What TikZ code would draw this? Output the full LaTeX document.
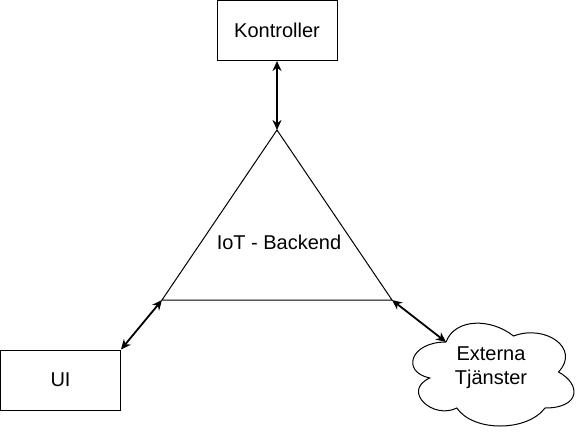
\documentclass[tikz,border=0pt]{standalone}
\usepackage{fontspec}
\setmainfont{Liberation Sans}
\usetikzlibrary{arrows.meta}
\begin{document}
\begin{tikzpicture}[x=1pt,y=-1pt,
  txt/.style={font=\fontsize{20}{24}\selectfont, align=center, inner sep=0pt},
  box/.style={txt, draw, line width=1pt, minimum width=120pt, minimum height=60pt},
  shape line/.style={draw, line width=1pt, line join=miter},
  link/.style={line width=1.8pt, {Stealth[length=10pt,width=9pt]}-{Stealth[length=10pt,width=9pt]}}]
\useasboundingbox (0,0) rectangle (582,432);
% boxes
\node[box] (ctrl) at (277,30.5) {Kontroller};
\node[box] (ui) at (60.5,380) {UI};
% triangle
\coordinate (apex) at (277,130);
\coordinate (bl) at (162,300);
\coordinate (br) at (392,300);
\draw[shape line] (apex) -- (bl) -- (br) -- cycle;
\node[txt] (iot) at (279,242) {IoT - Backend};
% cloud
\begin{scope}[shift={(401,312)}, x=180pt, y=-120pt]
  \draw[shape line]
    (0.25,0.25) .. controls (0.05,0.25) and (0,0.5) .. (0.16,0.55)
    .. controls (0,0.66) and (0.18,0.9) .. (0.31,0.8)
    .. controls (0.4,1) and (0.7,1) .. (0.8,0.8)
    .. controls (1,0.8) and (1,0.6) .. (0.875,0.5)
    .. controls (1,0.3) and (0.8,0.1) .. (0.625,0.2)
    .. controls (0.5,0.05) and (0.3,0.05) .. (0.25,0.25) -- cycle;
  \coordinate (cloudpt) at (0.25,0.25);
\end{scope}
\node[txt] (ext) at (491,368) {Externa\\Tjänster};
% connectors
\draw[link] (ctrl.south) -- (apex);
\draw[link] (ui.north east) -- (bl);
\draw[link] (br) -- (cloudpt);
\end{tikzpicture}
\end{document}
